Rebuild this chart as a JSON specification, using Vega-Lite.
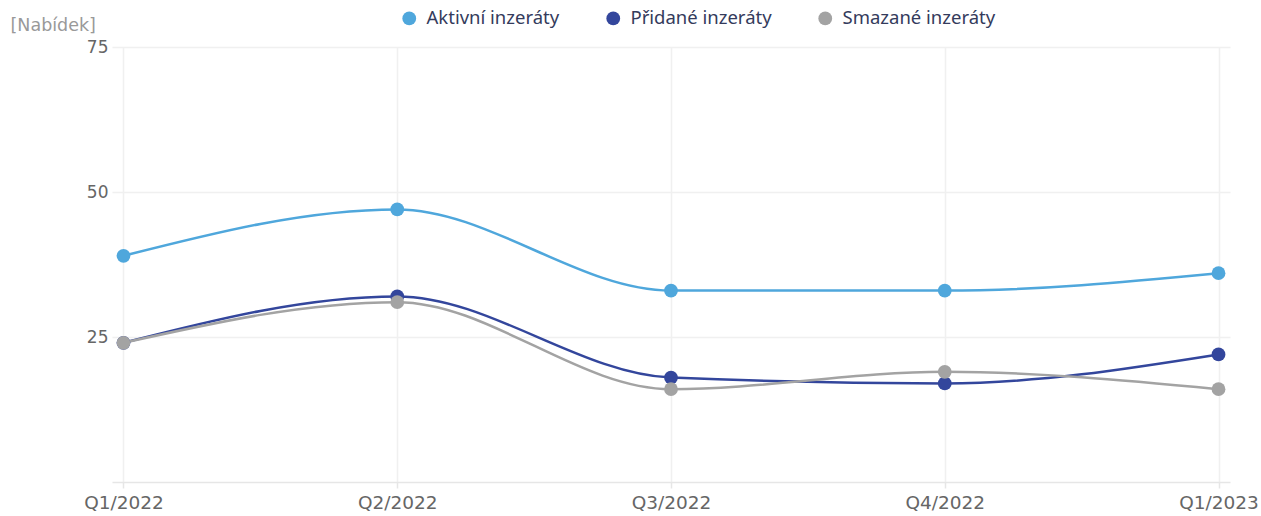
{
  "$schema": "https://vega.github.io/schema/vega-lite/v6.json",
  "width": 1118,
  "height": 435,
  "autosize": {"type": "none"},
  "padding": {"left": 112, "top": 47, "right": 31, "bottom": 34},
  "background": "white",
  "config": {"view": {"stroke": null}, "font": "DejaVu Sans"},
  "data": {"values": [
    {"q": "Q1/2022", "series": "Aktivní inzeráty", "v": 39},
    {"q": "Q2/2022", "series": "Aktivní inzeráty", "v": 47},
    {"q": "Q3/2022", "series": "Aktivní inzeráty", "v": 33},
    {"q": "Q4/2022", "series": "Aktivní inzeráty", "v": 33},
    {"q": "Q1/2023", "series": "Aktivní inzeráty", "v": 36},
    {"q": "Q1/2022", "series": "Přidané inzeráty", "v": 24},
    {"q": "Q2/2022", "series": "Přidané inzeráty", "v": 32},
    {"q": "Q3/2022", "series": "Přidané inzeráty", "v": 18},
    {"q": "Q4/2022", "series": "Přidané inzeráty", "v": 17},
    {"q": "Q1/2023", "series": "Přidané inzeráty", "v": 22},
    {"q": "Q1/2022", "series": "Smazané inzeráty", "v": 24},
    {"q": "Q2/2022", "series": "Smazané inzeráty", "v": 31},
    {"q": "Q3/2022", "series": "Smazané inzeráty", "v": 16},
    {"q": "Q4/2022", "series": "Smazané inzeráty", "v": 19},
    {"q": "Q1/2023", "series": "Smazané inzeráty", "v": 16}
  ]},
  "encoding": {
    "x": {
      "field": "q", "type": "ordinal", "sort": null,
      "scale": {"type": "point", "padding": 0.042},
      "axis": {
        "title": null, "labelAngle": 0, "labelFontSize": 18.5, "labelColor": "#666666",
        "labelPadding": 5, "grid": true, "gridColor": "#f0f0f0", "gridWidth": 1.5,
        "domainColor": "#e6e6e6", "domainWidth": 1.5, "tickColor": "#e6e6e6", "tickSize": 6, "tickWidth": 1.5
      }
    },
    "y": {
      "field": "v", "type": "quantitative",
      "scale": {"domain": [0, 75], "nice": false},
      "axis": {
        "values": [25, 50, 75], "labelFontSize": 17, "labelColor": "#666666", "labelPadding": 4,
        "ticks": false, "domain": false, "gridColor": "#f0f0f0", "gridWidth": 1.5,
        "title": "[Nabídek]", "titleAngle": 0, "titleAlign": "left", "titleBaseline": "middle",
        "titleX": -102, "titleY": -22, "titleFontSize": 17.5, "titleFontWeight": "normal", "titleColor": "#999999"
      }
    },
    "color": {
      "field": "series", "type": "nominal",
      "scale": {"domain": ["Aktivní inzeráty", "Přidané inzeráty", "Smazané inzeráty"], "range": ["#4fa7dc", "#33469c", "#a3a3a3"]},
      "legend": {
        "title": null, "orient": "none", "direction": "horizontal", "legendX": 288, "legendY": -38,
        "symbolType": "circle", "symbolSize": 190, "symbolStrokeWidth": 0, "symbolOpacity": 1,
        "labelFontSize": 18.5, "labelColor": "#343b5c", "labelFont": "Noto Sans", "columnPadding": 44, "labelOffset": 8
      }
    }
  },
  "layer": [
    {"mark": {"type": "line", "interpolate": "monotone", "strokeWidth": 2.5}},
    {"mark": {"type": "point", "filled": true, "opacity": 1, "size": 190}}
  ]
}
